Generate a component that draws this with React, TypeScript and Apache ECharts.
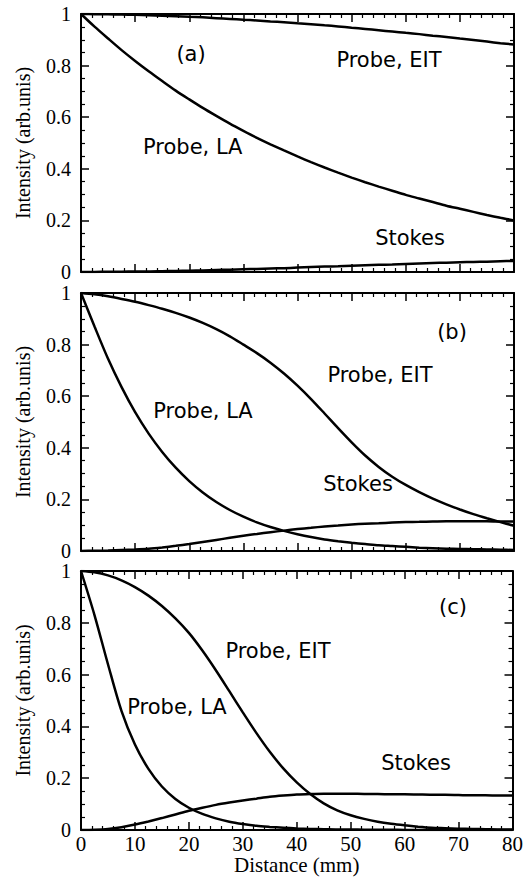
import React, { useEffect, useRef } from "react";
import * as echarts from "echarts";

// Distance (mm)
const distance = [0, 2.5, 5, 7.5, 10, 12.5, 15, 17.5, 20, 22.5, 25, 27.5, 30, 32.5, 35, 37.5, 40, 42.5, 45, 47.5, 50, 52.5, 55, 57.5, 60, 62.5, 65, 67.5, 70, 72.5, 75, 77.5, 80];

// Panel (a)
const eitA = [1, 0.9995, 0.999, 0.998, 0.997, 0.995, 0.993, 0.991, 0.989, 0.987, 0.984, 0.981, 0.978, 0.975, 0.971, 0.968, 0.964, 0.96, 0.956, 0.952, 0.947, 0.942, 0.937, 0.932, 0.927, 0.922, 0.916, 0.911, 0.905, 0.899, 0.893, 0.887, 0.882];
const laA = [1, 0.951, 0.905, 0.86, 0.818, 0.778, 0.74, 0.703, 0.669, 0.636, 0.605, 0.575, 0.547, 0.52, 0.495, 0.471, 0.448, 0.426, 0.405, 0.385, 0.366, 0.348, 0.331, 0.315, 0.299, 0.285, 0.271, 0.257, 0.245, 0.233, 0.221, 0.21, 0.2];
const stokesA = [0, 0, 0.001, 0.001, 0.002, 0.002, 0.003, 0.004, 0.005, 0.006, 0.008, 0.009, 0.011, 0.012, 0.014, 0.015, 0.017, 0.019, 0.021, 0.022, 0.024, 0.026, 0.028, 0.029, 0.031, 0.033, 0.035, 0.036, 0.038, 0.039, 0.04, 0.042, 0.043];

// Panel (b)
const eitB = [1, 0.995, 0.987, 0.977, 0.966, 0.953, 0.939, 0.923, 0.905, 0.884, 0.86, 0.832, 0.8, 0.767, 0.73, 0.688, 0.641, 0.589, 0.533, 0.476, 0.421, 0.37, 0.326, 0.288, 0.256, 0.228, 0.203, 0.181, 0.161, 0.143, 0.127, 0.112, 0.098];
const laB = [1, 0.87, 0.745, 0.635, 0.538, 0.455, 0.384, 0.323, 0.271, 0.227, 0.19, 0.159, 0.133, 0.111, 0.093, 0.078, 0.065, 0.054, 0.045, 0.038, 0.032, 0.027, 0.022, 0.019, 0.016, 0.013, 0.011, 0.009, 0.008, 0.007, 0.006, 0.005, 0.004];
const stokesB = [0, 0.001, 0.002, 0.004, 0.006, 0.009, 0.014, 0.02, 0.027, 0.035, 0.043, 0.051, 0.059, 0.066, 0.073, 0.079, 0.085, 0.09, 0.095, 0.099, 0.103, 0.106, 0.108, 0.11, 0.112, 0.113, 0.114, 0.115, 0.115, 0.115, 0.115, 0.114, 0.114];

// Panel (c)
const eitC = [1, 0.995, 0.983, 0.964, 0.938, 0.905, 0.865, 0.817, 0.761, 0.693, 0.617, 0.536, 0.454, 0.375, 0.302, 0.238, 0.184, 0.139, 0.103, 0.076, 0.057, 0.043, 0.032, 0.024, 0.018, 0.013, 0.009, 0.007, 0.005, 0.004, 0.003, 0.002, 0.002];
const laC = [1, 0.83, 0.64, 0.46, 0.33, 0.236, 0.168, 0.12, 0.086, 0.062, 0.045, 0.032, 0.023, 0.016, 0.012, 0.009, 0.006, 0.004, 0.003, 0.002, 0.002, 0.001, 0.001, 0.001, 0, 0, 0, 0, 0, 0, 0, 0, 0];
const stokesC = [0, 0.001, 0.004, 0.011, 0.021, 0.033, 0.046, 0.06, 0.074, 0.086, 0.097, 0.106, 0.114, 0.121, 0.128, 0.133, 0.137, 0.139, 0.14, 0.14, 0.14, 0.139, 0.139, 0.138, 0.138, 0.137, 0.136, 0.136, 0.135, 0.134, 0.134, 0.133, 0.133];

const panels = [
  { tag: "(a)", eit: eitA, la: laA, stokes: stokesA },
  { tag: "(b)", eit: eitB, la: laB, stokes: stokesB },
  { tag: "(c)", eit: eitC, la: laC, stokes: stokesC },
];

const xTicks = { min: 0, max: 80, interval: 10 };
const yTicks = { min: 0, max: 1, interval: 0.2 };
const xLabel = "Distance (mm)";
const yLabel = "Intensity (arb.unis)";

// Annotation positions (layout)
const annotations = [
  { text: "(a)", x: 191, y: 54, align: "center" },
  { text: "Probe, EIT", x: 389, y: 60, align: "center" },
  { text: "Probe, LA", x: 143, y: 147, align: "left" },
  { text: "Stokes", x: 410, y: 238, align: "center" },
  { text: "(b)", x: 452, y: 332, align: "center" },
  { text: "Probe, EIT", x: 380, y: 375, align: "center" },
  { text: "Probe, LA", x: 203, y: 411, align: "center" },
  { text: "Stokes", x: 358, y: 484, align: "center" },
  { text: "(c)", x: 453, y: 607, align: "center" },
  { text: "Probe, EIT", x: 278, y: 651, align: "center" },
  { text: "Probe, LA", x: 177, y: 707, align: "center" },
  { text: "Stokes", x: 416, y: 763, align: "center" },
];

const gridTops = [14, 293, 571];
const gridHeights = [258, 258, 259];

const SERIF = "'Liberation Serif', 'Times New Roman', serif";
const SANS = "'DejaVu Sans', sans-serif";

export default function App() {
  const ref = useRef<HTMLDivElement>(null);
  useEffect(() => {
    if (!ref.current) return;
    const chart = echarts.init(ref.current, null, { renderer: "svg" });
    const grids: any[] = [];
    const xAxes: any[] = [];
    const yAxes: any[] = [];
    const series: any[] = [];
    const lineCommon = { lineStyle: { color: "#000", width: 2 } };
    panels.forEach((p, i) => {
      grids.push({ left: 81, right: 12, top: gridTops[i], height: gridHeights[i] });
      const last = i === panels.length - 1;
      const tickBase = {
        axisLine: { show: true, onZero: false, ...lineCommon },
        axisTick: { show: true, inside: true, length: 8, lineStyle: { color: "#000", width: 1.5 } },
        minorTick: { show: true, length: 4, lineStyle: { color: "#000", width: 1.2 } },
        splitLine: { show: false },
      };
      xAxes.push({
        gridIndex: i,
        type: "value",
        position: "bottom",
        ...xTicks,
        ...tickBase,
        minorTick: { ...tickBase.minorTick, splitNumber: 5 },
        axisLabel: {
          show: last,
          color: "#000",
          fontFamily: SERIF,
          fontSize: 21,
          margin: 3,
          showMinLabel: true,
          showMaxLabel: true,
        },
        name: last ? xLabel : "",
        nameLocation: "middle",
        nameGap: 21,
        nameTextStyle: { color: "#000", fontFamily: SERIF, fontSize: 21 },
      });
      xAxes.push({
        gridIndex: i,
        type: "value",
        position: "top",
        ...xTicks,
        ...tickBase,
        minorTick: { ...tickBase.minorTick, splitNumber: 5 },
        axisLabel: { show: false },
      });
      yAxes.push({
        gridIndex: i,
        type: "value",
        position: "left",
        ...yTicks,
        ...tickBase,
        minorTick: { ...tickBase.minorTick, splitNumber: 4 },
        axisLabel: {
          show: true,
          color: "#000",
          fontFamily: SERIF,
          fontSize: 20,
          lineHeight: 15,
          margin: 10,
          showMinLabel: true,
          showMaxLabel: true,
        },
        name: yLabel,
        nameLocation: "middle",
        nameGap: 48,
        nameTextStyle: { color: "#000", fontFamily: SERIF, fontSize: 20 },
      });
      yAxes.push({
        gridIndex: i,
        type: "value",
        position: "right",
        ...yTicks,
        ...tickBase,
        minorTick: { ...tickBase.minorTick, splitNumber: 4 },
        axisLabel: { show: false },
      });
      [p.eit, p.la, p.stokes].forEach((vals) => {
        series.push({
          type: "line",
          xAxisIndex: i * 2,
          yAxisIndex: i * 2,
          data: distance.map((d, k) => [d, vals[k]]),
          showSymbol: false,
          smooth: 0.3,
          lineStyle: { color: "#000", width: 2.5 },
          z: 3,
        });
      });
    });
    chart.setOption({
      animation: false,
      backgroundColor: "#fff",
      grid: grids,
      xAxis: xAxes,
      yAxis: yAxes,
      series,
      graphic: annotations.map((a) => ({
        type: "text",
        x: a.x,
        y: a.y,
        z: 10,
        style: {
          text: a.text,
          fill: "#000",
          font: `21px ${SANS}`,
          textAlign: a.align,
          textVerticalAlign: "middle",
        },
      })),
    });
    return () => chart.dispose();
  }, []);
  return <div ref={ref} style={{ position: "absolute", left: 0, top: 0, width: 526, height: 883 }} />;
}
